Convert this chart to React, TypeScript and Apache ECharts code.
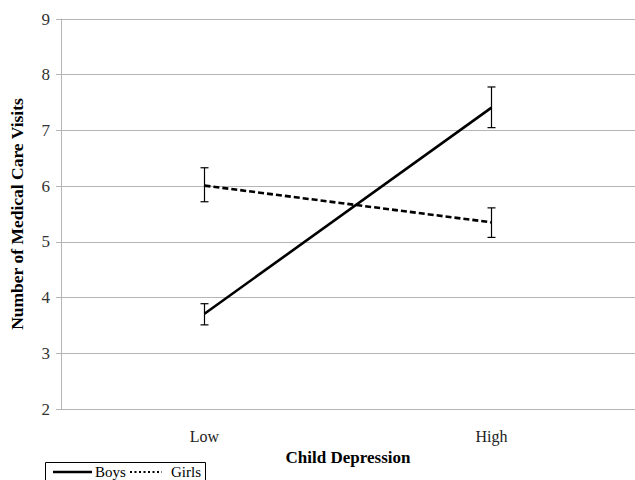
import React, { useEffect, useRef } from "react";
import * as echarts from "echarts";

const categories = ["Low", "High"];
const boysMeans = [3.71, 7.41];
const boysLower = [3.51, 7.05];
const boysUpper = [3.89, 7.78];
const girlsMeans = [6.01, 5.35];
const girlsLower = [5.72, 5.08];
const girlsUpper = [6.33, 5.61];
const yTicks = { min: 2, max: 9, interval: 1 };

const FONT = "'Liberation Serif', 'Times New Roman', serif";
const GRID_GRAY = "#b5b5b5";

function errorSeries(name: string, lower: number[], upper: number[]) {
  const data = categories.map((c, i) => [i, lower[i], upper[i]]);
  return {
    name,
    type: "custom",
    z: 5,
    renderItem: (params: any, api: any) => {
      const x = api.value(0);
      const lo = api.coord([x, api.value(1)]);
      const hi = api.coord([x, api.value(2)]);
      const cap = 4;
      const style = { stroke: "#000", lineWidth: 1.2 };
      return {
        type: "group",
        children: [
          { type: "line", shape: { x1: lo[0], y1: lo[1], x2: hi[0], y2: hi[1] }, style },
          { type: "line", shape: { x1: lo[0] - cap, y1: lo[1], x2: lo[0] + cap, y2: lo[1] }, style },
          { type: "line", shape: { x1: hi[0] - cap, y1: hi[1], x2: hi[0] + cap, y2: hi[1] }, style },
        ],
      };
    },
    data,
  };
}

export default function App() {
  const ref = useRef<HTMLDivElement>(null);
  useEffect(() => {
    if (!ref.current) return;
    const chart = echarts.init(ref.current, null, { renderer: "svg" });
    chart.setOption({
      animation: false,
      backgroundColor: "#fff",
      textStyle: { fontFamily: FONT },
      grid: { left: 60, right: -5, top: 19, bottom: 71, containLabel: false },
      xAxis: {
        type: "category",
        data: categories,
        boundaryGap: true,
        name: "Child Depression",
        nameLocation: "middle",
        nameGap: 39,
        nameTextStyle: { fontFamily: FONT, fontWeight: "bold", fontSize: 17, color: "#000" },
        axisLine: { show: true, lineStyle: { color: GRID_GRAY, width: 1 } },
        axisTick: { show: false },
        axisLabel: { fontFamily: FONT, fontSize: 16, color: "#222", margin: 19 },
        splitLine: { show: false },
      },
      yAxis: {
        type: "value",
        min: yTicks.min,
        max: yTicks.max,
        interval: yTicks.interval,
        name: "Number of Medical Care Visits",
        nameLocation: "middle",
        nameGap: 35,
        nameTextStyle: { fontFamily: FONT, fontWeight: "bold", fontSize: 17.5, color: "#000" },
        axisLine: { show: true, lineStyle: { color: GRID_GRAY, width: 1 } },
        axisTick: { show: true, length: 5, lineStyle: { color: GRID_GRAY } },
        axisLabel: { fontFamily: FONT, fontSize: 17, color: "#333", margin: 11 },
        splitLine: { show: true, lineStyle: { color: GRID_GRAY, width: 1 } },
      },
      series: [
        {
          name: "Boys",
          type: "line",
          data: boysMeans,
          symbol: "none",
          z: 4,
          lineStyle: { color: "#000", width: 2.6, type: "solid" },
        },
        {
          name: "Girls",
          type: "line",
          data: girlsMeans,
          symbol: "none",
          z: 4,
          lineStyle: { color: "#000", width: 2.6, type: [6, 3] },
        },
        errorSeries("BoysErr", boysLower, boysUpper),
        errorSeries("GirlsErr", girlsLower, girlsUpper),
      ],
      graphic: [
        {
          type: "rect",
          shape: { x: 45.5, y: 462.5, width: 160, height: 24 },
          style: { fill: "#fff", stroke: "#000", lineWidth: 1 },
        },
        {
          type: "line",
          shape: { x1: 53, y1: 472, x2: 92, y2: 472 },
          style: { stroke: "#000", lineWidth: 2.5 },
        },
        {
          type: "text",
          x: 95,
          y: 472,
          style: { text: "Boys", fontFamily: FONT, fontSize: 15, fill: "#000", verticalAlign: "middle", align: "left" },
        },
        {
          type: "line",
          shape: { x1: 130, y1: 472, x2: 162, y2: 472 },
          style: { stroke: "#000", lineWidth: 2.2, lineDash: [2, 2.5] },
        },
        {
          type: "text",
          x: 171,
          y: 472,
          style: { text: "Girls", fontFamily: FONT, fontSize: 15, fill: "#000", verticalAlign: "middle", align: "left" },
        },
      ],
    });
    return () => chart.dispose();
  }, []);
  return (
    <div
      ref={ref}
      style={{ position: "fixed", left: 0, top: 0, width: 635, height: 480, background: "#fff" }}
    />
  );
}
